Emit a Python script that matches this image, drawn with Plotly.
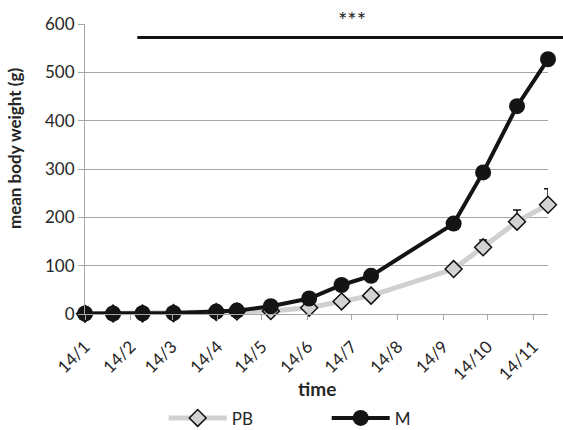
import plotly.graph_objects as go

# ---- data ----
dates = ["2014-01-01", "2014-01-20", "2014-02-09", "2014-03-02", "2014-03-31",
         "2014-04-14", "2014-05-07", "2014-06-02", "2014-06-24", "2014-07-14",
         "2014-09-08", "2014-09-28", "2014-10-21", "2014-11-11"]
pb = [0.5, 0.8, 1.2, 1.8, 4, 5, 6, 13, 26, 38, 93, 138, 191, 226]
pb_err = [0, 0, 0, 0, 0, 0, 0, 0, 0, 0, 3, 15, 24, 33]
m = [1, 1, 1.5, 2, 5, 7, 16, 32, 60, 79, 187, 293, 430, 527]
m_err = [0, 0, 0, 0, 0, 0, 0, 0, 0, 0, 0, 0, 0, 6]

tick_dates = ["2014-01-01", "2014-02-01", "2014-03-01", "2014-04-01", "2014-05-01",
              "2014-06-01", "2014-07-01", "2014-08-01", "2014-09-01", "2014-10-01",
              "2014-11-01"]
tick_labels = ["14/1", "14/2", "14/3", "14/4", "14/5", "14/6", "14/7", "14/8",
               "14/9", "14/10", "14/11"]
y_ticks = [0, 100, 200, 300, 400, 500, 600]
sig_level = 572
sig_label = "***"

FONT = "Lato"
TXT = "#262626"
GRID = "#a6a6a6"

fig = go.Figure()
fig.add_trace(go.Scatter(
    x=dates, y=pb, name="PB", mode="lines+markers",
    line=dict(color="#d0d0d0", width=5),
    marker=dict(symbol="diamond", size=13, color="#d3d3d3",
                line=dict(color="#111111", width=1.5)),
    error_y=dict(type="data", array=pb_err, arrayminus=[0] * len(pb_err),
                 symmetric=False, color="#111111", thickness=1.5, width=4),
    cliponaxis=False,
))
fig.add_trace(go.Scatter(
    x=dates, y=m, name="M", mode="lines+markers",
    line=dict(color="#141414", width=4),
    marker=dict(symbol="circle", size=16, color="#141414"),
    error_y=dict(type="data", array=m_err, arrayminus=[0] * len(m_err),
                 symmetric=False, color="#141414", thickness=1.5, width=4),
    cliponaxis=False,
))

# significance bar
fig.add_shape(type="line", xref="paper", yref="y",
              x0=0.113, x1=1.04, y0=sig_level, y1=sig_level,
              line=dict(color="#111111", width=3))
fig.add_annotation(text=sig_label, xref="paper", yref="y", x=0.577, y=sig_level,
                   yanchor="bottom", yshift=3, showarrow=False,
                   font=dict(family=FONT, size=22, color=TXT))

# axis titles as annotations
fig.add_annotation(text="<b>mean body weight (g)</b>", textangle=-90,
                   xref="paper", yref="paper", x=-0.151, y=0.569,
                   xanchor="center", yanchor="middle", showarrow=False,
                   font=dict(family=FONT, size=17, color=TXT))
fig.add_annotation(text="<b>time</b>", xref="paper", yref="paper",
                   x=0.5, y=-0.258, xanchor="center", yanchor="middle",
                   showarrow=False, font=dict(family=FONT, size=19, color=TXT))

fig.update_xaxes(
    type="date", range=[dates[0], dates[-1]],
    tickmode="array", tickvals=tick_dates, ticktext=tick_labels,
    tickangle=-45, ticks="outside", ticklen=5, tickcolor=GRID,
    ticklabelstandoff=10,
    showline=True, linecolor=GRID, linewidth=1, showgrid=False, zeroline=False,
    tickfont=dict(family=FONT, size=17, color=TXT),
)
fig.update_yaxes(
    range=[0, 600], tickmode="array", tickvals=y_ticks,
    ticks="outside", ticklen=6, tickcolor=GRID,
    showline=True, linecolor=GRID, linewidth=1,
    showgrid=True, gridcolor=GRID, gridwidth=1, zeroline=False,
    tickfont=dict(family=FONT, size=17, color=TXT),
)

fig.update_layout(
    width=563, height=430,
    margin=dict(l=85, r=15, t=24, b=116, autoexpand=False),
    plot_bgcolor="white", paper_bgcolor="white",
    font=dict(family=FONT, color=TXT),
    showlegend=True,
    legend=dict(orientation="h", x=0.17, y=-0.36, xanchor="left", yanchor="middle",
                entrywidth=90, itemwidth=58,
                font=dict(family=FONT, size=17, color=TXT)),
)

fig.write_html("out.html")
